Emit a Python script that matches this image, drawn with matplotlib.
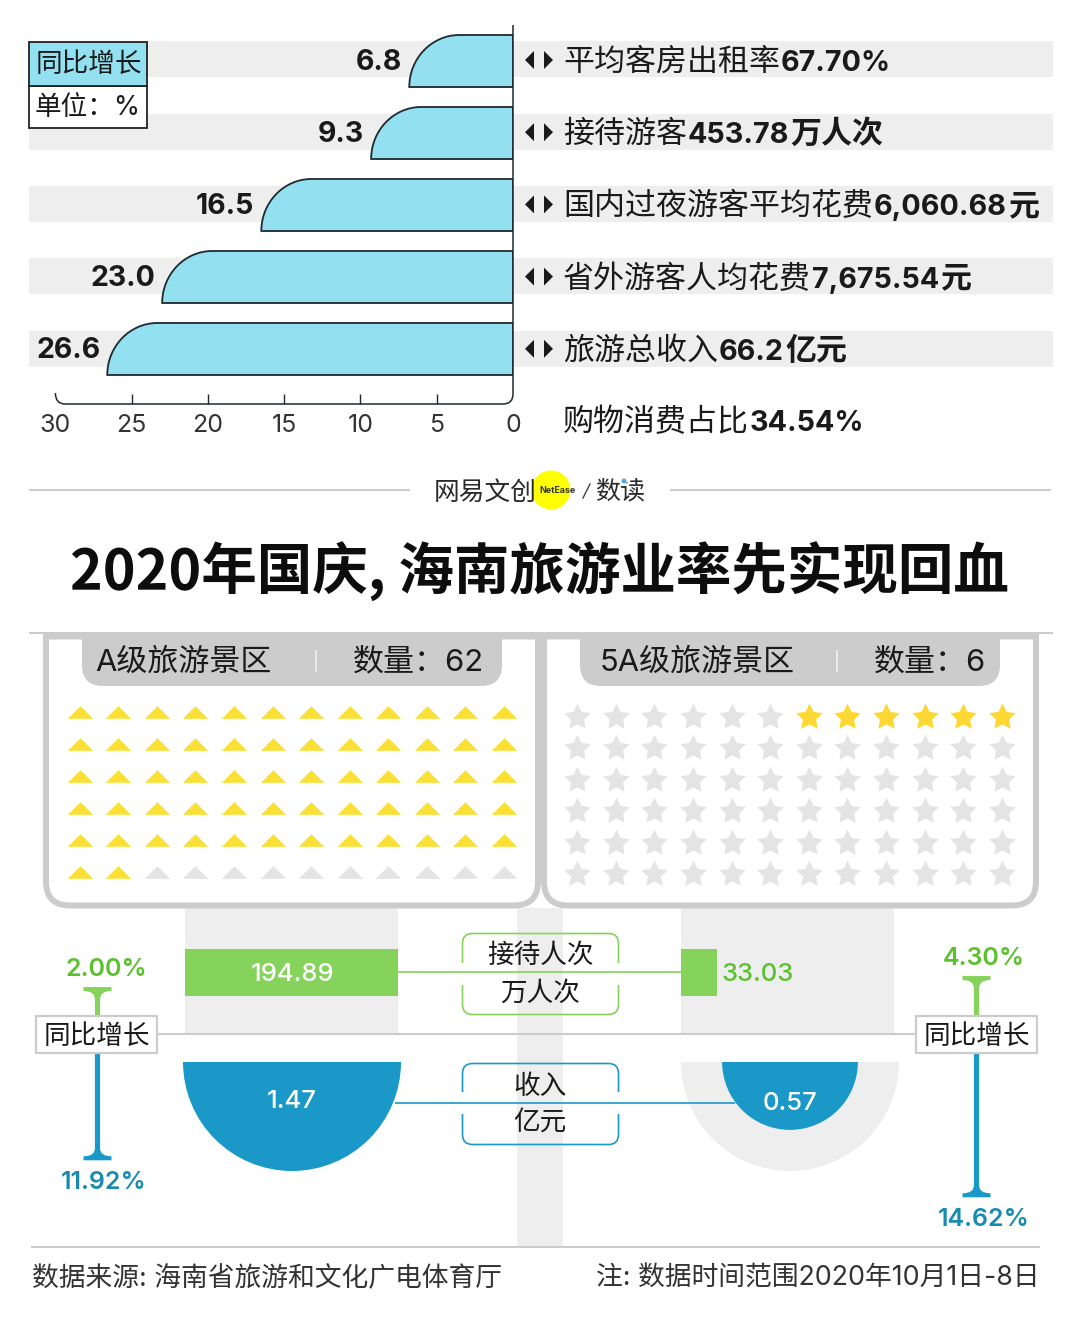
import numpy as np
import matplotlib
matplotlib.use("Agg")
import matplotlib.pyplot as plt
from matplotlib.path import Path
from matplotlib.patches import PathPatch, Rectangle, Wedge, Circle, Polygon

# ---------- data ----------
growth_labels = ["6.8", "9.3", "16.5", "23.0", "26.6"]
growth_values = [6.8, 9.3, 16.5, 23.0, 26.6]
axis_ticks = [30, 25, 20, 15, 10, 5, 0]
metric_names = ["平均客房出租率", "接待游客", "国内过夜游客平均花费", "省外游客人均花费", "旅游总收入"]
metric_values = ["67.70%", "453.78", "6,060.68", "7,675.54", "66.2"]
metric_units = ["", "万人次", "元", "元", "亿元"]
extra_name, extra_value = "购物消费占比", "34.54%"

a_total, a_count = 72, 62
s_total, s_count = 72, 6
card_titles = ["A级旅游景区", "5A级旅游景区"]
card_counts = ["数量：62", "数量：6"]

visitors = [194.89, 33.03]
revenue = [1.47, 0.57]
visitor_growth = [2.00, 4.30]
revenue_growth = [11.92, 14.62]

# ---------- style ----------
W, H = 1080, 1321
CJK = "Noto Sans CJK SC"
FAM = ["Inter", CJK, "DejaVu Sans"]
plt.rcParams["font.family"] = FAM
BLACK = "#1a1a1a"
BAND = "#eeeeee"
LINE = "#cccccc"
CYAN = "#93e1f0"
GREEN = "#85d35a"
GREEN_T = "#5cc12e"
BLUE = "#1a98c8"
BLUE_T = "#1a8bb0"
YELLOW = "#fae034"
STAR = "#fdd835"
EMPTY = "#e4e4e4"

fig = plt.figure(figsize=(W / 100, H / 100), dpi=100, facecolor="white")


def px_axes(x0, y0, x1, y1, z):
    a = fig.add_axes([x0 / W, 1 - y1 / H, (x1 - x0) / W, (y1 - y0) / H], zorder=z)
    a.patch.set_alpha(0)
    return a


def overlay(z):
    a = px_axes(0, 0, W, H, z)
    a.set_xlim(0, W)
    a.set_ylim(H, 0)
    a.axis("off")
    return a


bg = overlay(0)
fg = overlay(5)
renderer = fig.canvas.get_renderer()


def segs(x, y, parts):
    """Lay text runs one after another on a shared baseline y."""
    for s, w, size in parts:
        if not s:
            continue
        t = fg.text(x, y, s, fontsize=size, fontweight=w, color=BLACK, va="baseline", ha="left")
        x = fg.transData.inverted().transform(t.get_window_extent(renderer))[1, 0] + 1


def hline(a, y, x0, x1, color=LINE, lw=1.5, z=2):
    a.plot([x0, x1], [y, y], color=color, lw=lw, solid_capstyle="butt", zorder=z)


# ---------- growth bars ----------
for y in [59, 132, 204, 276, 349]:
    bg.add_patch(Rectangle((29, y - 18), 1024, 36, fc=BAND, ec="none"))

ax_bar = px_axes(55.4, 25, 513, 404, 1)
ax_bar.set_xlim(30, 0)
ax_bar.set_ylim(4.764, -0.5)
for s in ax_bar.spines.values():
    s.set_visible(False)
rx = 50 / 15.25
h = 26 / 72
K = 0.55
for i, v in enumerate(growth_values):
    top, bot = i - h, i + h
    verts = [(0, bot), (v, bot), (v, top + 2 * h * (1 - K) * 1.0), (v - rx * (1 - K), top), (v - rx, top), (0, top), (0, bot)]
    codes = [Path.MOVETO, Path.LINETO, Path.CURVE4, Path.CURVE4, Path.CURVE4, Path.LINETO, Path.CLOSEPOLY]
    ax_bar.add_patch(PathPatch(Path(verts, codes), fc=CYAN, ec="#1e2a2e", lw=1.3))
    ax_bar.annotate(growth_labels[i], (v, i), xytext=(-5, -1), textcoords="offset points",
                    ha="right", va="center", fontsize=20.5, fontweight="bold", color=BLACK)
ax_bar.set_xticks(axis_ticks)
ax_bar.set_yticks([])
ax_bar.tick_params(axis="x", direction="in", length=7.2, width=1.0, color="#1e2a2e",
                   labelsize=18, labelcolor="#333333", pad=7)
for t in [ax_bar.xaxis.get_major_ticks()[0], ax_bar.xaxis.get_major_ticks()[-1]]:
    t.tick1line.set_visible(False)

fg.add_patch(PathPatch(Path(
    [(513, 25), (513, 394), (513, 404), (503, 404), (65, 404), (55.4, 404), (55.4, 393)],
    [Path.MOVETO, Path.LINETO, Path.CURVE3, Path.CURVE3, Path.LINETO, Path.CURVE3, Path.CURVE3]),
    fc="none", ec="#1e2a2e", lw=1.1))

for i, (n, v, u) in enumerate(zip(metric_names, metric_values, metric_units)):
    y = 61 + 72.2 * i
    segs(563, y + 10, [(n, "normal", 22.3), (v, "bold", 20.7), (u, "bold", 22.3)])
    cy = y - 1
    fg.add_patch(Polygon([(534, cy - 9), (534, cy + 9), (525, cy)], fc=BLACK, ec="none"))
    fg.add_patch(Polygon([(544, cy - 9), (544, cy + 9), (553, cy)], fc=BLACK, ec="none"))
segs(563, 431, [(extra_name, "normal", 22.3), (extra_value, "bold", 20.7)])

# legend box
fg.add_patch(Rectangle((29, 86), 118, 42, fc="white", ec="#222222", lw=1.3))
fg.add_patch(Rectangle((29, 42), 118, 44, fc=CYAN, ec="#222222", lw=1.3))
fg.text(89, 65.5, "同比增长", fontsize=19.2, color=BLACK, ha="center", va="center")
fg.text(88, 108, "单位：%", fontsize=19.2, color=BLACK, ha="center", va="center")

# ---------- logo + title ----------
hline(bg, 490, 29, 410)
hline(bg, 490, 670, 1051)
bg.add_patch(Circle((551, 490), 19.5, fc="#ffff00", ec="none"))
fg.text(485, 493, "网易文创", fontsize=18.5, color="#2a2a2a", ha="center", va="center", fontweight="light")
fg.text(557.5, 490.5, "NetEase", fontsize=6.4, fontweight="bold", color="#333333", ha="center", va="center")
fg.plot([583, 590], [498, 484], color="#444444", lw=1.0)
fg.text(620.5, 492, "数读", fontsize=18, color="#2a2a2a", ha="center", va="center")
fg.add_patch(Circle((624, 481), 2.8, fc="#4aa8d8", ec="white", lw=0.5, zorder=6))
fg.text(539.5, 572, "2020年国庆, 海南旅游业率先实现回血", fontsize=40, fontweight=900,
        color="#0d0d0d", ha="center", va="center", family=[CJK])
hline(bg, 633, 29, 1053, lw=1.5)

# ---------- cards ----------
def card(x0, x1, y0=636.5, y1=905.5, r=24):
    v = [(x0, y0), (x0, y1 - r), (x0, y1), (x0 + r, y1), (x1 - r, y1), (x1, y1), (x1, y1 - r), (x1, y0), (x0, y0)]
    c = [Path.MOVETO, Path.LINETO, Path.CURVE3, Path.CURVE3, Path.LINETO, Path.CURVE3, Path.CURVE3, Path.LINETO, Path.CLOSEPOLY]
    bg.add_patch(PathPatch(Path(v, c), fc="white", ec=LINE, lw=4.3, zorder=4))


def tab(x0, x1, y0=636, y1=686, r=21):
    v = [(x0, y0), (x0, y1 - r), (x0, y1), (x0 + r, y1), (x1 - r, y1), (x1, y1), (x1, y1 - r), (x1, y0), (x0, y0)]
    c = [Path.MOVETO, Path.LINETO, Path.CURVE3, Path.CURVE3, Path.LINETO, Path.CURVE3, Path.CURVE3, Path.LINETO, Path.CLOSEPOLY]
    bg.add_patch(PathPatch(Path(v, c), fc=LINE, ec="none", zorder=5))


# grey columns behind the lower section
bg.add_patch(Rectangle((517, 908), 46, 339, fc=BAND, ec="none", zorder=1))
bg.add_patch(Rectangle((185, 905), 213, 129, fc=BAND, ec="none", zorder=1))
bg.add_patch(Rectangle((681, 905), 213, 129, fc=BAND, ec="none", zorder=1))

card(46, 538)
card(544, 1036)
tab(82, 502)
tab(580, 1000)
for x in (316, 837):
    fg.plot([x, x], [651, 671], color="#eeeeee", lw=1.3)
fg.text(95, 662, card_titles[0], fontsize=22.3, color=BLACK, ha="left", va="center")
fg.text(484, 662, card_counts[0], fontsize=22.3, color=BLACK, ha="right", va="center")
fg.text(600, 662, card_titles[1], fontsize=22.3, color=BLACK, ha="left", va="center")
fg.text(986, 662, card_counts[1], fontsize=22.3, color=BLACK, ha="right", va="center")

TRI = Path([(-1, -0.5), (1, -0.5), (0, 0.5), (-1, -0.5)], closed=True)
STAR5 = Path.unit_regular_star(5, innerCircle=0.5)

# triangle grid: cell coordinates, one unit per slot
cols, rows = 12, a_total // 12
ax_a = px_axes(79.7 - 19.3, 712.5 - 16, 504 + 19.3, 872.5 + 16, 3)
ax_a.set_xlim(-0.5, cols - 0.5)
ax_a.set_ylim(rows - 0.5, -0.5)
ax_a.axis("off")
idx = np.arange(a_total)
gx, gy = idx % cols, idx // cols
on = idx < a_count
ax_a.plot(gx[~on], gy[~on], ls="none", marker=TRI, ms=18.2, mfc=EMPTY, mec="none")
ax_a.plot(gx[on], gy[on], ls="none", marker=TRI, ms=18.2, mfc=YELLOW, mec="none")

# star grid, the filled ones sit at the right of the first row
rows_s = s_total // 12
ax_s = px_axes(577 - 19.3, 717 - 15.7, 1002 + 19.3, 874 + 15.7, 3)
ax_s.set_xlim(-0.5, cols - 0.5)
ax_s.set_ylim(rows_s - 0.5, -0.5)
ax_s.axis("off")
idx = np.arange(s_total)
gx, gy = idx % cols, idx // cols
on = (gy == 0) & (gx >= cols - s_count)
ax_s.plot(gx[~on], gy[~on], ls="none", marker=STAR5, ms=20, mfc=EMPTY, mec="none")
ax_s.plot(gx[on], gy[on], ls="none", marker=STAR5, ms=20, mfc=STAR, mec="none")

# ---------- visitors (bars share one scale) ----------
for x0, val, lab in zip((185, 681), visitors, (True, False)):
    a = px_axes(x0, 949, x0 + 213, 996, 3)
    a.set_xlim(0, visitors[0])
    a.set_ylim(-0.5, 0.5)
    a.axis("off")
    a.barh([0], [val], height=1, color=GREEN)
    if lab:
        a.annotate(f"{val:.2f}", (val / 2, 0), xytext=(1, -1.5), textcoords="offset points", color="white",
                   fontsize=18.5, ha="center", va="center", fontweight="medium")
    else:
        a.annotate(f"{val:.2f}", (val, 0), xytext=(3.5, -1.5), textcoords="offset points", color=GREEN_T,
                   fontsize=18.5, ha="left", va="center", fontweight="medium")

# ---------- revenue (half discs: area follows the value) ----------
R = np.sqrt(revenue[0])
for cx, val, ghost in zip((292, 790), revenue, (False, True)):
    a = px_axes(cx - 109, 1062, cx + 109, 1171, 3)
    a.set_xlim(-R, R)
    a.set_ylim(-R, 0)
    a.axis("off")
    if ghost:
        a.add_patch(Wedge((0, 0), R, 180, 360, fc=BAND, ec="none"))
    a.add_patch(Wedge((0, 0), np.sqrt(val), 180, 360, fc=BLUE, ec="none", zorder=3))

hline(fg, 972, 398, 681, color=GREEN, lw=1.2)
hline(fg, 1102.5, 395, 735, color=BLUE, lw=1.2)
fg.text(292, 1102, f"{revenue[0]:.2f}", color="white", fontsize=18.5, ha="center", va="center", fontweight="medium")
fg.text(790, 1104, f"{revenue[1]:.2f}", color="white", fontsize=18.5, ha="center", va="center", fontweight="medium")


def bracket(y0, y1, color, texts, ys, gap0, gap1, x0=462.5, x1=618.5, r=10):
    for ya, yb, yc in ((gap0, y0, y0 + r), (gap1, y1, y1 - r)):
        v = [(x0, ya), (x0, yc), (x0, yb), (x0 + r, yb), (x1 - r, yb), (x1, yb), (x1, yc), (x1, ya)]
        c = [Path.MOVETO, Path.LINETO, Path.CURVE3, Path.CURVE3, Path.LINETO, Path.CURVE3, Path.CURVE3, Path.LINETO]
        fg.add_patch(PathPatch(Path(v, c), fc="none", ec=color, lw=1.2))
    for t, y in zip(texts, ys):
        fg.text(540, y, t, fontsize=19.2, color=BLACK, ha="center", va="center")


bracket(933.5, 1014.5, GREEN, ["接待人次", "万人次"], [956, 994], 963, 985)
bracket(1063.5, 1144.5, BLUE, ["收入", "亿元"], [1087, 1124], 1092, 1114)

# ---------- year on year T markers ----------
hline(bg, 1034, 157, 916, lw=1.5, z=2)


def t_marker(x, y_from, y_end, color):
    s = 1 if y_end > y_from else -1
    w, cap, f, th = 2.6, 14, 8, 4
    v = [(x - w, y_from), (x - w, y_end - s * (th + f)), (x - w, y_end - s * th), (x - cap, y_end - s * th),
         (x - cap, y_end), (x + cap, y_end), (x + cap, y_end - s * th), (x + w, y_end - s * th),
         (x + w, y_end - s * (th + f)), (x + w, y_from), (x - w, y_from)]
    c = [Path.MOVETO, Path.LINETO, Path.CURVE3, Path.CURVE3, Path.LINETO, Path.LINETO, Path.LINETO, Path.CURVE3,
         Path.CURVE3, Path.LINETO, Path.CLOSEPOLY]
    fg.add_patch(PathPatch(Path(v, c), fc=color, ec="none"))


def up_len(v):
    return 18.4 + 4.78 * v


def down_len(v):
    return -56 + 13.7 * v


for x, bx, gv, rv, gtx, rtx in zip((97.5, 976.5), (36, 916), visitor_growth, revenue_growth, (106, 984), (104, 984)):
    yg = 1015 - up_len(gv)
    yr = 1053 + down_len(rv)
    t_marker(x, 1016, yg, GREEN)
    t_marker(x, 1052, yr, BLUE)
    fg.add_patch(Rectangle((bx, 1015.5), 121, 37.5, fc="white", ec=LINE, lw=1.6))
    fg.text(bx + 61, 1036.5, "同比增长", fontsize=19.2, color=BLACK, ha="center", va="center")
    fg.text(gtx, yg - 17.5, f"{gv:.2f}%", color=GREEN_T, fontsize=18, fontweight="semibold", ha="center", va="center")
    fg.text(rtx, yr + 22, f"{rv:.2f}%", color=BLUE_T, fontsize=18, fontweight="semibold", ha="center", va="center")

# ---------- footer ----------
hline(bg, 1247, 31, 1040, lw=1.5)
fg.text(32, 1279, "数据来源: 海南省旅游和文化广电体育厅", fontsize=19.3, color="#333333", ha="left", va="center")
fg.text(1040, 1279, "注: 数据时间范围2020年10月1日-8日", fontsize=19.3, color="#333333", ha="right", va="center")

fig.savefig("out.png", dpi=100, facecolor="white")
